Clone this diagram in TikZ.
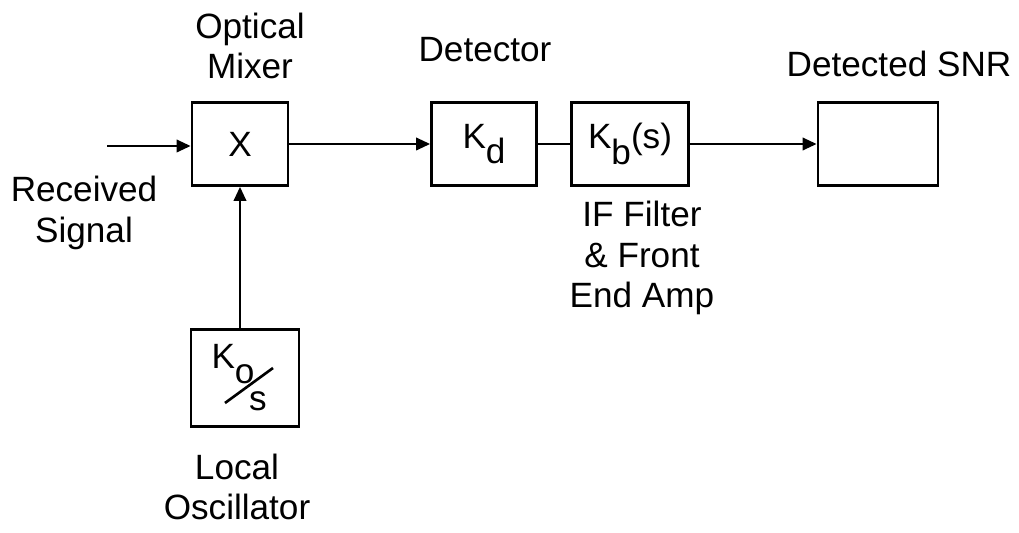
\documentclass[tikz,border=0pt]{standalone}
\usepackage{fontspec}
\setmainfont{Liberation Sans}
\usetikzlibrary{arrows.meta,positioning}
\tikzset{
	block/.style={
		draw, rectangle, line width=1.5pt, inner sep=0pt,
		minimum height=1.66cm, text=black
	},
	caption/.style={
		align=center, inner sep=0pt,
		font=\fontsize{20}{23}\selectfont
	},
}
\newcommand{\lowsub}[1]{\raisebox{-0.45em}{#1}}

\begin{document}
\begin{tikzpicture}[
		x=0.02cm, y=-0.02cm,
		font=\fontsize{20}{23}\selectfont,
		>={Triangle[length=8pt,width=7pt]},
		->, line width=1.5pt
		]
		\useasboundingbox (0,0) rectangle (1019,533);
		
		\node[block,minimum width=1.92cm] (mixer) at (240,144) {X};
		\node[block,minimum width=2.1cm]  (det)   at (484,144) {K\lowsub{d}};
		\node[block,minimum width=2.34cm] (filt)  at (630,144) {K\lowsub{b}(s)};
		\node[block,minimum width=2.4cm]  (snr)   at (878,144) {};
		\node[block,minimum width=2.16cm,minimum height=1.94cm] (lo) at (245,378) {};
		
		\node[inner sep=0pt] (lonum) at (233,364) {K\lowsub{o}};
		\node[inner sep=0pt] (loden) at (258,401) {s};
		\draw[-] (225,403) -- (273,368);
		
		\node[caption] (mixtxt) at (250,46)  {Optical\\Mixer};
		\node[caption] (dettxt) at (485,50)  {Detector};
		\node[caption] (snrtxt) at (899,64)  {Detected SNR};
		\node[caption] (rxtxt)  at (84,213)  {Received\\Signal};
		\node[caption] (filttxt) at (642,258) {IF Filter\\\& Front\\End Amp};
		\node[caption] (lotxt)  at (237,487) {Local\\Oscillator};
		
		\coordinate (rx) at (107,146);
		\draw (rx) -- (rx -| mixer.west);
		\draw (mixer.east) -- (det.west);
		\draw[-] (det.east) -- (filt.west);
		\draw (filt.east) -- (snr.west);
		\draw (mixer.south |- lo.north) -- (mixer.south);
	\end{tikzpicture}
\end{document}
